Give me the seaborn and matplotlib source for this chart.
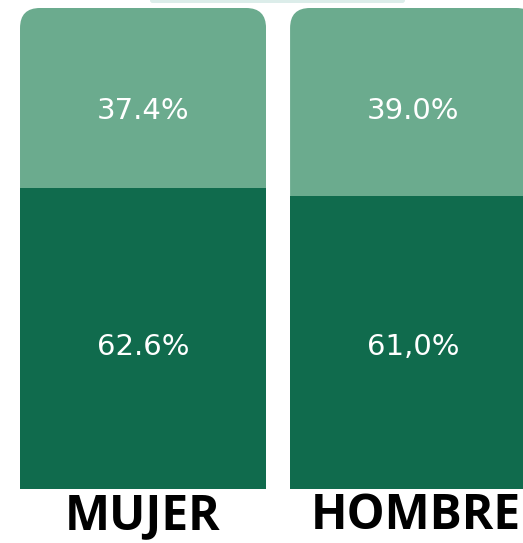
import matplotlib
matplotlib.use("Agg")
import matplotlib.pyplot as plt
import seaborn as sns
import pandas as pd
from matplotlib.patches import FancyBboxPatch

categories = ["MUJER", "HOMBRE"]
dark_values = [62.6, 61.0]
light_values = [37.4, 39.0]
dark_labels = ["62.6%", "61,0%"]
light_labels = ["37.4%", "39.0%"]

LIGHT = "#6BAB8E"
DARK = "#106B4D"

sns.set_theme(style="white")
plt.rcParams["font.family"] = ["Open Sans", "DejaVu Sans"]

df = pd.DataFrame({
    "cat": categories,
    "dark": dark_values,
    "total": [d + l for d, l in zip(dark_values, light_values)],
})

fig = plt.figure(figsize=(5.23, 5.43), dpi=100)
ax = fig.add_axes([0, 0, 1, 1])

W = 0.911
sns.barplot(data=df, x="cat", y="total", color=LIGHT, saturation=1, width=W, ax=ax, linewidth=0)
n_light = len(ax.patches)
sns.barplot(data=df, x="cat", y="dark", color=DARK, saturation=1, width=W, ax=ax, linewidth=0)

ax.set_xlim(-0.5296, 1.407)
ax.set_ylim(-11.23, 101.66)
ax.axis("off")

# rounded top corners via clip path
r_x = 20 / 270
aspect = (20 / 4.81) / r_x
for p in ax.patches[:n_light]:
    x0 = p.get_x()
    w = p.get_width()
    h = p.get_height()
    clip = FancyBboxPatch((x0, -20), w, h + 20,
                          boxstyle=f"round,pad=0,rounding_size={r_x}",
                          mutation_aspect=aspect, transform=ax.transData)
    p.set_clip_path(clip)

for i, cat in enumerate(categories):
    ax.text(i, 78.6, light_labels[i], ha="center", va="center", color="white",
            fontsize=21, family=["DejaVu Sans"])
    ax.text(i, 29.6, dark_labels[i], ha="center", va="center", color="white",
            fontsize=21, family=["DejaVu Sans"])
    ax.text(i + (0.01 if i else 0.0), -5.8, cat, ha="center", va="center", color="black",
            fontsize=34.5, fontweight="bold", family=["Open Sans", "DejaVu Sans"])

# faint cut-off element at the top
fig.patches.append(FancyBboxPatch((150 / 523, 1 - 3 / 543), 255 / 523, 6 / 543,
                                  boxstyle="round,pad=0,rounding_size=0.005",
                                  transform=fig.transFigure, facecolor="#DCEDEA",
                                  edgecolor="none", figure=fig))

fig.savefig("out.png", dpi=100)
